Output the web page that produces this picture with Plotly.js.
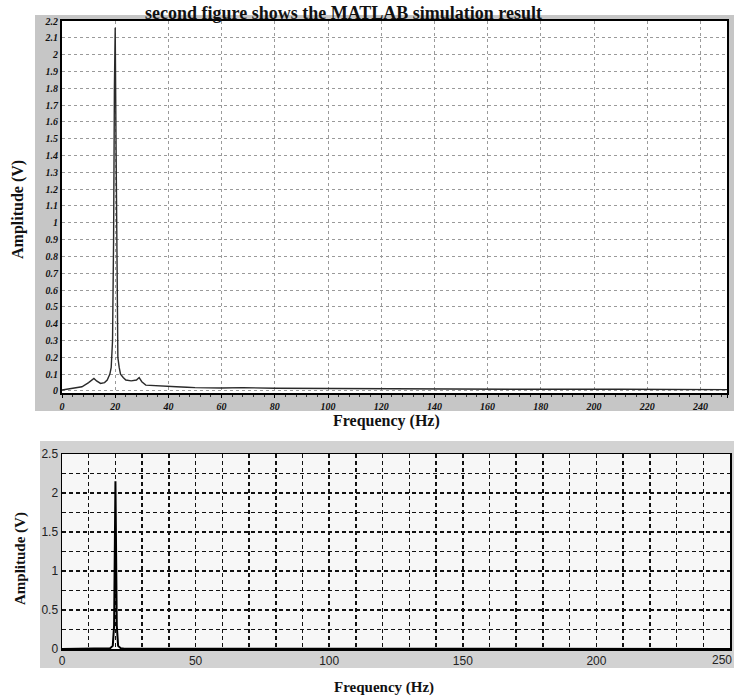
<!DOCTYPE html>
<html>
<head>
<meta charset="utf-8">
<script src="https://cdn.plot.ly/plotly-3.0.1.min.js"></script>
<style>html,body{margin:0;padding:0;background:#fff;}#chart{width:734px;height:697px;}</style>
</head>
<body>
<div id="chart"></div>
<script>
// Top figure (measured spectrum)
const freqTop = [0, 3, 5, 7.5, 10, 11, 12, 13, 14.5, 16, 17, 18, 18.5, 19, 19.4, 19.7, 20, 20.3, 20.6, 21, 21.5, 22, 23, 24, 26, 28, 29, 30, 31.5, 34, 37, 40, 43, 47, 50, 60, 68, 80, 100, 120, 150, 180, 210, 250];
const ampTop = [0.006, 0.012, 0.018, 0.025, 0.05, 0.065, 0.075, 0.06, 0.045, 0.05, 0.065, 0.1, 0.14, 0.3, 0.9, 1.8, 2.16, 1.5, 0.6, 0.2, 0.14, 0.1, 0.08, 0.065, 0.06, 0.065, 0.08, 0.055, 0.035, 0.032, 0.03, 0.027, 0.025, 0.022, 0.02, 0.018, 0.02, 0.016, 0.014, 0.012, 0.011, 0.01, 0.01, 0.008];
const topXTicks = [0, 20, 40, 60, 80, 100, 120, 140, 160, 180, 200, 220, 240, 250];

// Bottom figure (MATLAB simulation)
const freqBot = [0, 17, 18, 19, 19.5, 20, 20.5, 21, 22, 23, 250];
const ampBot = [0, 0.005, 0.01, 0.04, 0.3, 2.15, 0.3, 0.04, 0.01, 0.005, 0];
const botXTicks = [0, 50, 100, 150, 200, 250];
const botXLabels = ["0", "50", "100", "150", "200", ""];
const botLastLabel = "250";

const titleText = "second figure shows the MATLAB simulation result";
const xTitle = "Frequency (Hz)";
const yTitle = "Amplitude (V)";

const W = 734, H = 697;
const px = v => v / W;
const py = v => 1 - v / H;

const serifBold = {family: "Liberation Serif, Times New Roman, serif", weight: "bold", color: "#111"};
const gridDash = "4px,3px";

const traces = [
  {x: freqTop, y: ampTop, type: "scatter", mode: "lines", line: {color: "#2a2a2a", width: 1.4}, xaxis: "x", yaxis: "y", hoverinfo: "x+y"},
  {x: freqBot, y: ampBot, type: "scatter", mode: "lines", line: {color: "#000", width: 2}, xaxis: "x2", yaxis: "y2", hoverinfo: "x+y"}
];

const layout = {
  width: W, height: H,
  margin: {l: 0, r: 0, t: 0, b: 0},
  paper_bgcolor: "#ffffff",
  plot_bgcolor: "#ffffff",
  showlegend: false,
  xaxis: {
    domain: [px(62), px(727)], range: [0, 250], anchor: "y",
    tickmode: "array", tickvals: topXTicks,
    showgrid: true, gridcolor: "#9a9a9a", griddash: "dot", gridwidth: 1,
    zeroline: false, showline: true, linecolor: "#000", linewidth: 2, mirror: true,
    ticks: "outside", ticklen: 3, tickcolor: "#000",
    minor: {dtick: 4, ticks: "outside", ticklen: 2, tickcolor: "#333"},
    tickfont: {family: "Liberation Serif, serif", size: 10, weight: "bold", style: "italic", color: "#111"}
  },
  yaxis: {
    domain: [py(393), py(21)], range: [-0.012, 2.2], anchor: "x",
    tickmode: "linear", tick0: 0, dtick: 0.1,
    showgrid: true, gridcolor: "#9a9a9a", griddash: "dot", gridwidth: 1,
    zeroline: false, showline: true, linecolor: "#000", linewidth: 2, mirror: true,
    ticks: "",
    tickfont: {family: "Liberation Serif, serif", size: 10, weight: "bold", style: "italic", color: "#111"}
  },
  xaxis2: {
    domain: [px(62), px(730)], range: [0, 250], anchor: "y2",
    tickmode: "array", tickvals: botXTicks, ticktext: botXLabels,
    showgrid: true, gridcolor: "#111", griddash: gridDash, gridwidth: 1.5,
    minor: {tickmode: "linear", tick0: 0, dtick: 10, showgrid: true, gridcolor: "#111", griddash: gridDash, gridwidth: 1.5},
    zeroline: false, showline: true, linecolor: "#000", linewidth: 1.5, mirror: true,
    ticks: "",
    tickfont: {family: "Liberation Sans, Arial, sans-serif", size: 12, color: "#222"}
  },
  yaxis2: {
    domain: [py(649), py(454)], range: [0, 2.5], anchor: "x2",
    tickmode: "linear", tick0: 0, dtick: 0.5,
    showgrid: true, gridcolor: "#111", griddash: gridDash, gridwidth: 1.5,
    minor: {dtick: 0.25, showgrid: true, gridcolor: "#111", griddash: gridDash, gridwidth: 1.5},
    zeroline: false, showline: true, linecolor: "#000", linewidth: 1.5, mirror: true,
    ticks: "",
    tickfont: {family: "Liberation Sans, Arial, sans-serif", size: 12, color: "#222"}
  },
  shapes: [
    {type: "rect", xref: "paper", yref: "paper", x0: px(35), x1: 1, y0: py(411), y1: py(15), fillcolor: "#c6c6c6", line: {width: 0}, layer: "below"},
    {type: "rect", xref: "paper", yref: "paper", x0: px(62), x1: px(727), y0: py(393), y1: py(21), fillcolor: "#ffffff", line: {width: 0}, layer: "below"},
    {type: "rect", xref: "paper", yref: "paper", x0: px(40), x1: 1, y0: py(668), y1: py(441), fillcolor: "#d2d2d2", line: {width: 0}, layer: "below"},
    {type: "rect", xref: "paper", yref: "paper", x0: px(62), x1: px(730), y0: py(649), y1: py(454), fillcolor: "#f7f7f7", line: {width: 0}, layer: "below"}
  ],
  annotations: [
    {text: titleText, xref: "paper", yref: "paper", x: px(343), y: py(1), xanchor: "center", yanchor: "top", showarrow: false, font: Object.assign({size: 18}, serifBold)},
    {text: xTitle, xref: "paper", yref: "paper", x: px(386), y: py(421), xanchor: "center", yanchor: "middle", showarrow: false, font: Object.assign({size: 16}, serifBold)},
    {text: yTitle, xref: "paper", yref: "paper", x: px(18), y: py(210), xanchor: "center", yanchor: "middle", textangle: -90, showarrow: false, font: Object.assign({size: 16}, serifBold)},
    {text: xTitle, xref: "paper", yref: "paper", x: px(384), y: py(687), xanchor: "center", yanchor: "middle", showarrow: false, font: Object.assign({size: 15}, serifBold)},
    {text: yTitle, xref: "paper", yref: "paper", x: px(20), y: py(559), xanchor: "center", yanchor: "middle", textangle: -90, showarrow: false, font: Object.assign({size: 15}, serifBold)},
    {text: botLastLabel, xref: "paper", yref: "paper", x: 1, y: py(651), xanchor: "right", yanchor: "top", showarrow: false, font: {family: "Liberation Sans, Arial, sans-serif", size: 12, color: "#222"}}
  ]
};

Plotly.newPlot("chart", traces, layout, {staticPlot: true, displayModeBar: false});
</script>
</body>
</html>
